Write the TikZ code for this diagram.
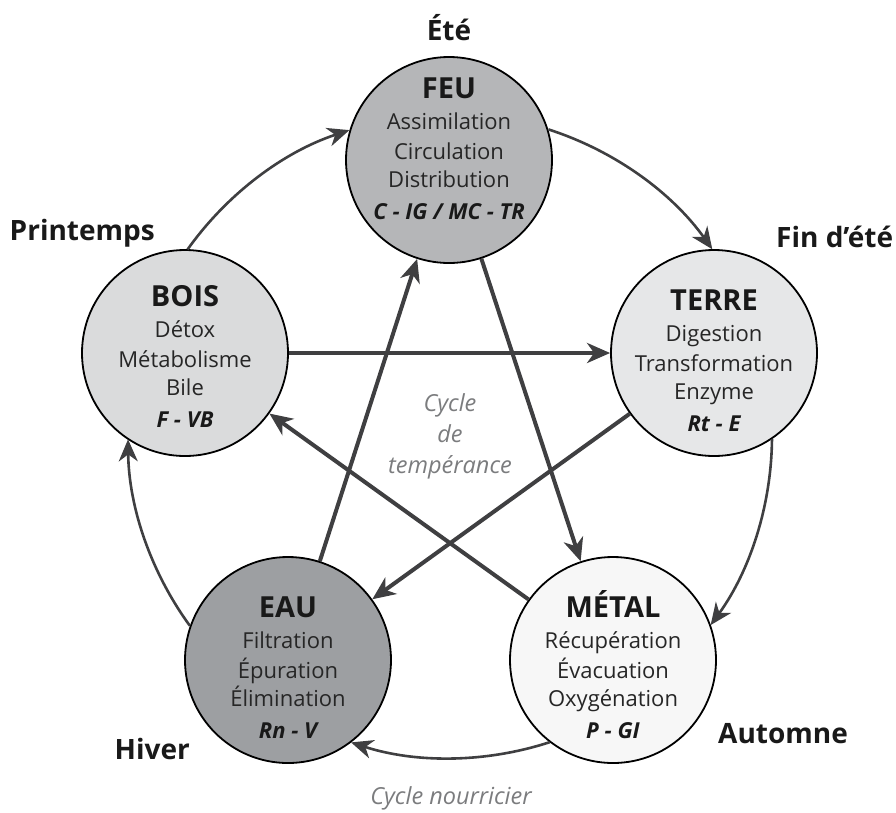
\documentclass[tikz,border=0pt]{standalone}
\usepackage{fontspec}
\setmainfont{Open Sans}
\usetikzlibrary{arrows.meta}
\definecolor{lineg}{HTML}{3F3F41}
\definecolor{feuc}{HTML}{B5B6B8}
\definecolor{terrec}{HTML}{E6E7E8}
\definecolor{boisc}{HTML}{DADBDC}
\definecolor{eauc}{HTML}{9D9FA2}
\definecolor{metalc}{HTML}{F7F7F7}
\definecolor{cycg}{HTML}{7B7C7E}
\newcommand\elemlabels[8]{%
  \node[ttl]  (#1-t) at (#2, -#3-10) {#4};
  \node[txt]  (#1-a) at (#2, -#3-41) {#5};
  \node[txt]  (#1-b) at (#2, -#3-71) {#6};
  \node[txt]  (#1-c) at (#2, -#3-99) {#7};
  \node[code] (#1-d) at (#2, -#3-131) {#8};
}
\begin{document}
\begin{tikzpicture}[x=1pt,y=1pt,
  elem/.style={circle, draw=black, line width=1.8pt, minimum size=206pt, inner sep=0pt},
  ttl/.style={font=\fontsize{29}{32}\selectfont\bfseries, text=black!90, anchor=base, inner sep=0pt},
  txt/.style={font=\fontsize{22}{26}\selectfont, text=black!85, anchor=base, inner sep=0pt},
  code/.style={font=\fontsize{22}{26}\selectfont\bfseries\itshape, text=black!90, anchor=base, inner sep=0pt},
  season/.style={font=\fontsize{28}{32}\selectfont\bfseries, text=black!90, anchor=base, inner sep=0pt},
  note/.style={font=\fontsize{23.5}{31}\selectfont\itshape, text=cycg, align=center, inner sep=0pt},
  cyc/.style={draw=lineg, line width=2.6pt, -{Stealth[length=22pt,width=19pt,inset=7pt]}},
  ctl/.style={draw=lineg, line width=4pt, -{Stealth[length=23pt,width=20pt,inset=7pt]}},
]
\useasboundingbox (0,0) rectangle (896,-812);

% elements
\node[elem, fill=feuc]   (feu)   at (449,-160) {};
\node[elem, fill=terrec] (terre) at (714,-353) {};
\node[elem, fill=boisc]  (bois)  at (185,-353) {};
\node[elem, fill=eauc]   (eau)   at (288,-660) {};
\node[elem, fill=metalc] (metal) at (613,-660) {};

\coordinate (C) at (450,-436);

% cycle nourricier (outer)
\draw[cyc] ([shift={(72.2:322)}]C) arc[start angle=72.2, end angle=35.45, radius=322];
\draw[cyc] ([shift={(-0.55:322)}]C) arc[start angle=-0.55, end angle=-35.96, radius=322];
\draw[cyc] ([shift={(-71.96:322)}]C) arc[start angle=-71.96, end angle=-107.9, radius=322];
\draw[cyc] ([shift={(-143.9:322)}]C) arc[start angle=-143.9, end angle=-179.4, radius=322];
\draw[cyc] ([shift={(144.6:322)}]C) arc[start angle=144.6, end angle=108.2, radius=322];

% cycle de temperance (star)
\draw[ctl] (bois) -- (terre);
\draw[ctl] (feu) -- (metal);
\draw[ctl] (terre) -- (eau);
\draw[ctl] (metal) -- (bois);
\draw[ctl] (eau) -- (feu);

% texts inside circles
\elemlabels{feu}{449}{88}{FEU}{Assimilation}{Circulation}{Distribution}{C - IG / MC - TR}
\elemlabels{terre}{714}{300}{TERRE}{Digestion}{Transformation}{Enzyme}{Rt - E}
\elemlabels{bois}{185}{296}{BOIS}{Détox}{Métabolisme}{Bile}{F - VB}
\elemlabels{eau}{288}{607}{EAU}{Filtration}{Épuration}{Élimination}{Rn - V}
\elemlabels{metal}{613}{607}{MÉTAL}{Récupération}{Évacuation}{Oxygénation}{P - GI}

% seasons
\node[season] (ete) at (449,-40) {Été};
\node[season, anchor=base east] (printemps) at (155,-240) {Printemps};
\node[season, anchor=base west] (findete) at (776,-247) {Fin d’été};
\node[season, anchor=base east] (hiver) at (190,-759) {Hiver};
\node[season, anchor=base west] (automne) at (718,-743) {Automne};

% cycle names
\node[note] (temperance) at (450,-436) {Cycle\\de\\tempérance};
\node[note, anchor=base] (nourricier) at (451,-804) {Cycle nourricier};
\end{tikzpicture}
\end{document}
